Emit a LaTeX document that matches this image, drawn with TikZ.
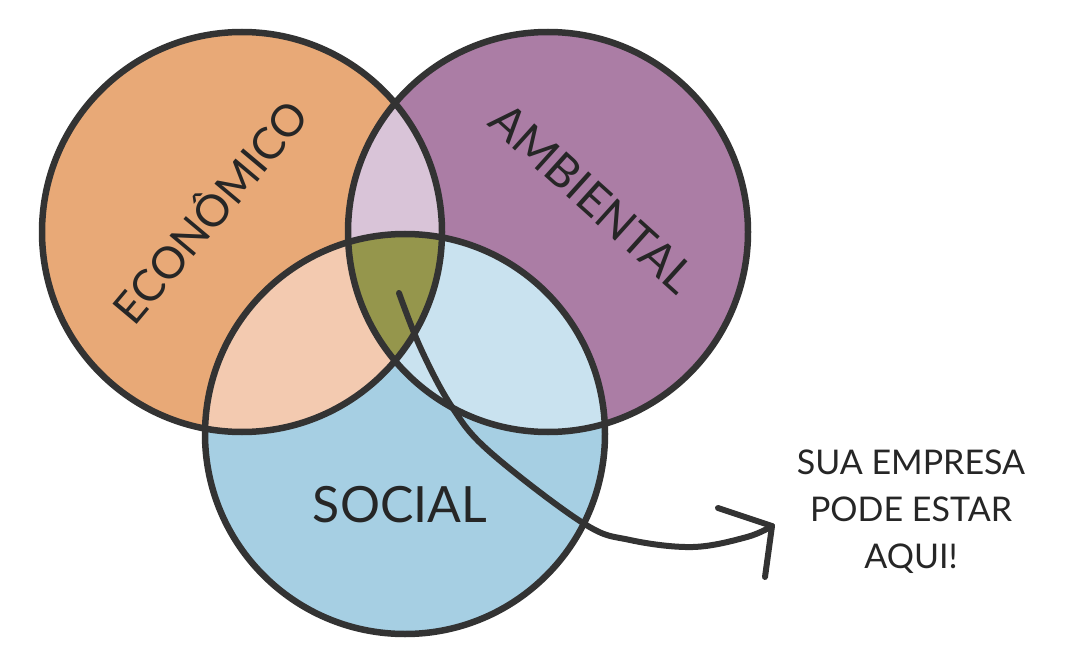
\documentclass[tikz,border=0pt]{standalone}
\usepackage{fontspec}
\setmainfont{Lato}
\definecolor{econ}{HTML}{E8A977}
\definecolor{amb}{HTML}{AB7DA5}
\definecolor{soc}{HTML}{A6CFE3}
\definecolor{econsoc}{HTML}{F3CAB0}
\definecolor{ambsoc}{HTML}{C9E2EF}
\definecolor{econamb}{HTML}{D9C4D8}
\definecolor{core}{HTML}{95964C}
\definecolor{ink}{HTML}{333333}
\tikzset{
  ring/.style={draw=ink, line width=6.5pt},
  lbl/.style={text=black!85, inner sep=0pt},
  pointer/.style={draw=ink, line width=6pt, line cap=round, line join=round}
}
\begin{document}
\begin{tikzpicture}[x=1pt,y=-1pt]
\useasboundingbox (0,0) rectangle (1077,666);
\def\R{200}
\coordinate (E) at (242,232);
\coordinate (A) at (548,232);
\coordinate (S) at (405,434);
% base fills
\fill[econ] (E) circle (\R);
\fill[amb] (A) circle (\R);
\fill[soc] (S) circle (\R);
% pairwise intersections
\begin{scope}\clip (E) circle (\R); \fill[econamb] (A) circle (\R); \fill[econsoc] (S) circle (\R); \end{scope}
\begin{scope}\clip (A) circle (\R); \fill[ambsoc] (S) circle (\R); \end{scope}
\begin{scope}\clip (E) circle (\R); \clip (A) circle (\R); \fill[core] (S) circle (\R); \end{scope}
% outlines
\draw[ring] (E) circle (\R);
\draw[ring] (A) circle (\R);
\draw[ring] (S) circle (\R);
% labels
\node[lbl, rotate=50, font=\fontsize{44}{44}\selectfont] (econlbl) at (208,210) {ECONÔMICO};
\node[lbl, rotate=-42, font=\fontsize{46}{46}\selectfont] (amblbl) at (593,198) {AMBIENTAL};
\node[lbl, font=\fontsize{50}{50}\selectfont] (soclbl) at (400,505) {SOCIAL};
\node[lbl, align=center, font=\fontsize{34}{47}\selectfont] (note) at (911,512) {SUA EMPRESA\\PODE ESTAR\\AQUI!};
% arrow
\coordinate (p0) at (399,293);
\coordinate (tip) at (772,526);
\coordinate (barbA) at (718,508);
\coordinate (barbB) at (765,577);
\draw[pointer] plot[smooth, tension=0.6] coordinates {(399,293) (421,349) (452,407) (490,452) (583,523) (630,540) (693,547) (747,537) (772,526)};
\draw[pointer] (barbA) -- (tip) -- (barbB);
\end{tikzpicture}
\end{document}
